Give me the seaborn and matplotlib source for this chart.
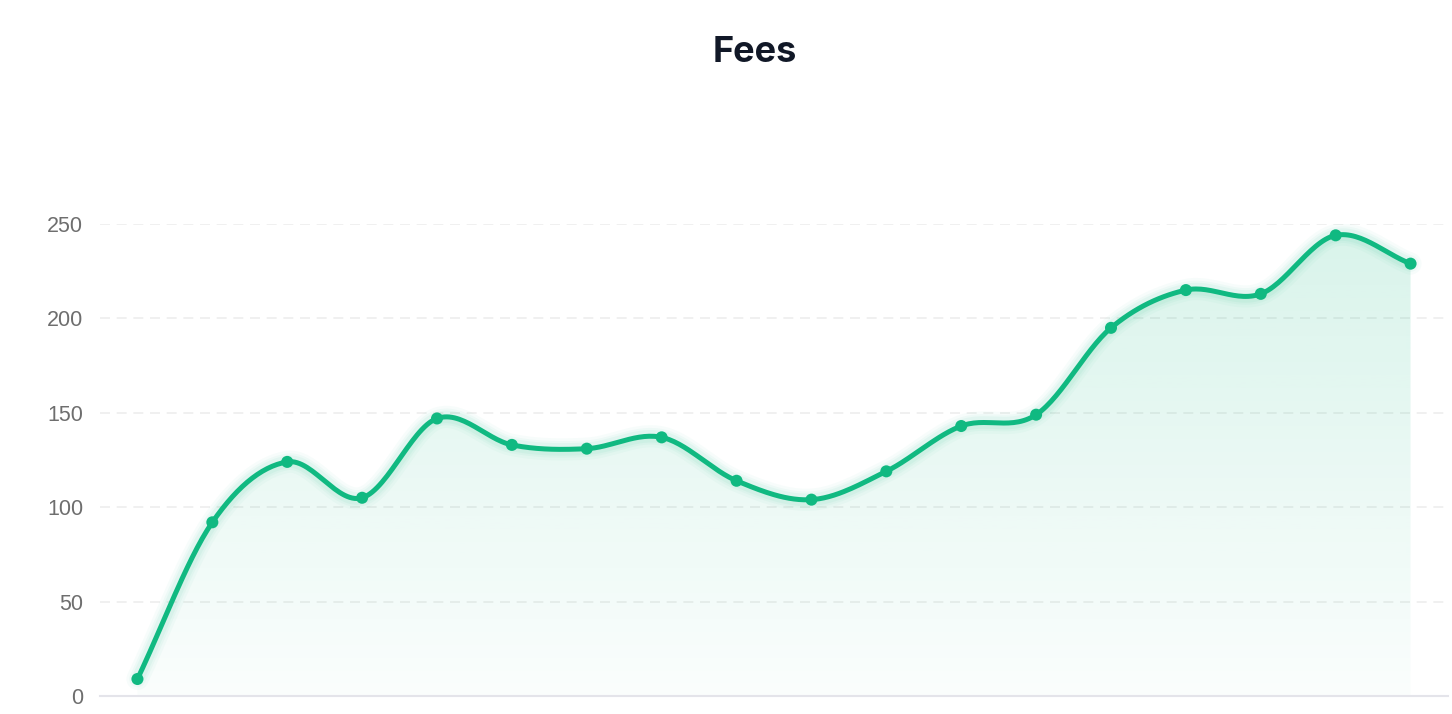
import numpy as np
import pandas as pd
import matplotlib
matplotlib.use('Agg')
import matplotlib.pyplot as plt
import seaborn as sns
from matplotlib.colors import LinearSegmentedColormap

# chart data
Periods = list(range(18))
Fees = [9, 92, 124, 105, 147, 133, 131, 137, 114, 104, 119, 143, 149, 195, 215, 213, 244, 229]
Y_Ticks = [0, 50, 100, 150, 200, 250]
Title = 'Fees'

Line_Color = '#10b981'


def smooth_curve(xs, ys, steps=30):
    # catmull-rom through the points, just for the drawn line
    xs = np.asarray(xs, float)
    ys = np.asarray(ys, float)
    px = np.concatenate([[2 * xs[0] - xs[1]], xs, [2 * xs[-1] - xs[-2]]])
    py = np.concatenate([[2 * ys[0] - ys[1]], ys, [2 * ys[-1] - ys[-2]]])
    out_x, out_y = [], []
    t = np.linspace(0, 1, steps, endpoint=False)
    for i in range(1, len(px) - 2):
        for p, out in ((px, out_x), (py, out_y)):
            p0, p1, p2, p3 = p[i - 1], p[i], p[i + 1], p[i + 2]
            v = 0.5 * ((2 * p1) + (-p0 + p2) * t + (2 * p0 - 5 * p1 + 4 * p2 - p3) * t ** 2
                       + (-p0 + 3 * p1 - 3 * p2 + p3) * t ** 3)
            out.extend(v)
    out_x.append(xs[-1])
    out_y.append(ys[-1])
    return np.array(out_x), np.array(out_y)


sns.set_theme(style='white')
plt.rcParams['font.family'] = ['Liberation Sans', 'DejaVu Sans']

fig = plt.figure(figsize=(14.52, 7.14), dpi=100)
ax = fig.add_axes([100 / 1452, 18 / 714, 1348 / 1452, (696 - 224) / 714])

sx, sy = smooth_curve(Periods, Fees)
smooth_df = pd.DataFrame({'period': sx, 'fees': sy})
points_df = pd.DataFrame({'period': Periods, 'fees': Fees})

# gradient area under the curve
cmap = LinearSegmentedColormap.from_list(
    'fade', [(16 / 255, 185 / 255, 129 / 255, 0.02), (16 / 255, 185 / 255, 129 / 255, 0.16)])
grad = np.linspace(0, 1, 256).reshape(-1, 1)
img = ax.imshow(grad, cmap=cmap, origin='lower', aspect='auto',
                extent=[Periods[0], Periods[-1], 0, max(Fees)], zorder=1)
poly = ax.fill_between(sx, sy, 0, color='none', lw=0)
img.set_clip_path(poly.get_paths()[0], transform=ax.transData)

# soft glow around the line
for w, a in [(16, 0.03), (12, 0.04), (9, 0.05)]:
    ax.plot(sx, sy, color=Line_Color, lw=w, alpha=a, solid_capstyle='round', zorder=2)

sns.lineplot(data=smooth_df, x='period', y='fees', color=Line_Color, linewidth=3.6,
             sort=False, ax=ax, zorder=3)
sns.scatterplot(data=points_df, x='period', y='fees', color=Line_Color, s=75,
                edgecolor='none', ax=ax, zorder=4)

ax.set_xlim(-0.5, 17.5)
ax.set_ylim(0, 250)
ax.set_yticks(Y_Ticks)
ax.set_yticklabels([str(v) for v in Y_Ticks])
ax.set_xticks([])
ax.set_xlabel('')
ax.set_ylabel('')
ax.tick_params(axis='y', length=0, pad=12, labelsize=15.5, labelcolor='#6e6e6e')

for v in Y_Ticks[1:]:
    ax.axhline(v, color='#eeeeee', lw=1.2, ls=(0, (6, 4)), zorder=0)

for side in ['top', 'right', 'left']:
    ax.spines[side].set_visible(False)
ax.spines['bottom'].set_color('#e4e4ea')
ax.spines['bottom'].set_linewidth(1.5)
ax.spines['bottom'].set_zorder(5)

fig.text(755 / 1452, 1 - 52 / 714, Title, ha='center', va='center', fontsize=26,
         fontweight='bold', color='#111827', family=['Inter', 'DejaVu Sans'])

fig.savefig('out.png', dpi=100)
